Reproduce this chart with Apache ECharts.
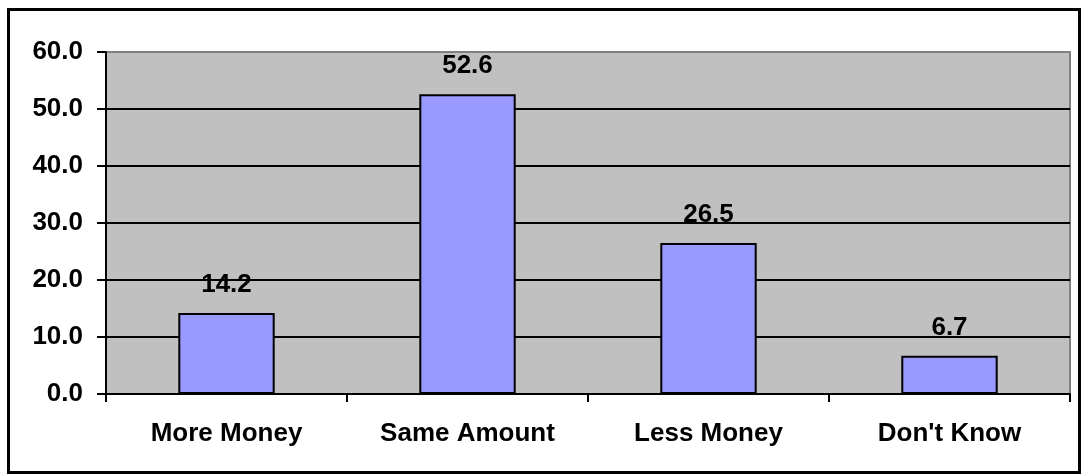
<!DOCTYPE html>
<html>
<head>
<meta charset="utf-8">
<script src="https://cdn.jsdelivr.net/npm/echarts@6/dist/echarts.min.js"></script>
<style>
  html, body { margin: 0; padding: 0; background: #fff; }
  #chart { width: 1083px; height: 475px; }
</style>
</head>
<body>
<div id="chart"></div>
<script>
var categories = ["More Money", "Same Amount", "Less Money", "Don't Know"];
var values = [14.2, 52.6, 26.5, 6.7];
var yMin = 0, yMax = 60, yStep = 10;

var font = "'Liberation Sans', Arial, sans-serif";
var chart = echarts.init(document.getElementById("chart"));
var option = {
    animation: false,
    backgroundColor: "#fff",
    graphic: [{
        type: "rect",
        left: 6, top: 7,
        shape: {width: 1071, height: 463},
        style: {fill: "none", stroke: "#000", lineWidth: 3},
        silent: true
    }],
    grid: {
        left: 106, right: 13, top: 52, bottom: 81,
        show: true,
        backgroundColor: "#C0C0C0",
        borderColor: "#808080",
        borderWidth: 2
    },
    xAxis: {
        type: "category",
        data: categories,
        axisLine: {lineStyle: {color: "#000", width: 2}},
        axisTick: {show: true, length: 8, lineStyle: {color: "#000", width: 2}},
        axisLabel: {
            color: "#000", fontFamily: font, fontWeight: "bold", fontSize: 26, margin: 27
        }
    },
    yAxis: {
        type: "value",
        min: yMin, max: yMax, interval: yStep,
        axisLine: {show: true, lineStyle: {color: "#000", width: 2}},
        axisTick: {show: true, length: 9, lineStyle: {color: "#000", width: 2}},
        axisLabel: {
            color: "#000", fontFamily: font, fontWeight: "bold", fontSize: 26, margin: 23,
            formatter: function (v) { return v.toFixed(1); }
        },
        splitLine: {
            lineStyle: {
                color: ["#000", "#000", "#000", "#000", "#000", "#000", "#808080"],
                width: 2
            }
        }
    },
    series: [{
        type: "bar",
        data: values,
        barWidth: "40%",
        itemStyle: {color: "#9999FF", borderColor: "#000", borderWidth: 2},
        label: {
            show: true, position: "top", distance: 15,
            color: "#000", fontFamily: font, fontWeight: "bold", fontSize: 26,
            formatter: function (p) { return p.value.toFixed(1); }
        }
    }]
};
chart.setOption(option);
</script>
</body>
</html>
